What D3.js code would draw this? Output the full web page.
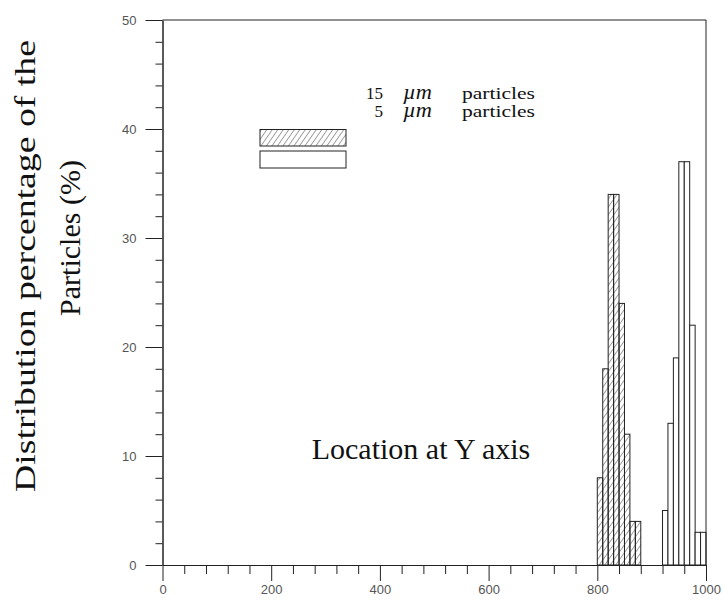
<!DOCTYPE html>
<html>
<head>
<meta charset="utf-8">
<script src="https://cdn.jsdelivr.net/npm/d3@7"></script>
<style>
  body { margin: 0; background: #fff; }
  svg { display: block; }
</style>
</head>
<body>
<svg width="724" height="605"></svg>
<script>
// datos del histograma (inicio de cada clase, ancho 10)
const bins15 = [800, 810, 820, 830, 840, 850, 860, 870];
const pct15  = [8, 18, 34, 34, 24, 12, 4, 4];
const bins5  = [920, 930, 940, 950, 960, 970, 980, 990];
const pct5   = [5, 13, 19, 37, 37, 22, 3, 3];
const binWidth = 10;

const xMajor = [0, 200, 400, 600, 800, 1000];
const yMajor = [0, 10, 20, 30, 40, 50];
const xMinor = d3.range(0, 1001, 40).filter(d => !xMajor.includes(d));
const yMinor = d3.range(0, 51, 2).filter(d => !yMajor.includes(d));

const serif = "'Liberation Serif', 'Times New Roman', serif";
const sans = "'Liberation Sans', Arial, sans-serif";

const svg = d3.select("svg");
const xScale = d3.scaleLinear().domain([0, 1000]).range([162.5, 706]);
const yScale = d3.scaleLinear().domain([0, 50]).range([565, 20]);

// patron rayado
const defs = svg.append("defs");
defs.append("pattern")
    .attr("id", "hatch")
    .attr("patternUnits", "userSpaceOnUse")
    .attr("width", 4.5)
    .attr("height", 4.5)
    .attr("patternTransform", "rotate(35)")
    .append("line")
    .attr("x1", 0).attr("y1", 0).attr("x2", 0).attr("y2", 4.5)
    .attr("stroke", "#444")
    .attr("stroke-width", 1);

// barras
function drawBars(bins, vals, fill) {
    svg.append("g").selectAll("rect")
        .data(bins.map((b, i) => ({ b: b, v: vals[i] })))
        .join("rect")
        .attr("x", d => xScale(d.b))
        .attr("y", d => yScale(d.v))
        .attr("width", d => xScale(d.b + binWidth) - xScale(d.b))
        .attr("height", d => yScale(0) - yScale(d.v))
        .attr("fill", fill)
        .attr("stroke", "#222")
        .attr("stroke-width", 1);
}
drawBars(bins15, pct15, "url(#hatch)");
drawBars(bins5, pct5, "#fff");

// ejes
const fmt = d3.format("d");
const xAxisMinor = d3.axisBottom(xScale).tickValues(xMinor).tickSize(9).tickSizeOuter(0).tickFormat("");
const xAxis = d3.axisBottom(xScale).tickValues(xMajor).tickSize(16).tickSizeOuter(0).tickPadding(4).tickFormat(fmt);
const yAxisMinor = d3.axisLeft(yScale).tickValues(yMinor).tickSize(7).tickSizeOuter(0).tickFormat("");
const yAxis = d3.axisLeft(yScale).tickValues(yMajor).tickSize(17).tickSizeOuter(0).tickPadding(9).tickFormat(fmt);

[xAxisMinor, xAxis].forEach(a => {
    svg.append("g").attr("transform", `translate(0,${yScale(0)})`).call(a);
});
[yAxisMinor, yAxis].forEach(a => {
    svg.append("g").attr("transform", `translate(${xScale(0)},0)`).call(a);
});
svg.selectAll(".domain, .tick line").attr("stroke", "#222");
svg.selectAll(".tick text")
    .attr("font-family", sans)
    .attr("font-size", 13)
    .attr("fill", "#555");

// marco superior y derecho
svg.append("line")
    .attr("x1", xScale(0)).attr("y1", yScale(50))
    .attr("x2", xScale(1000)).attr("y2", yScale(50))
    .attr("stroke", "#222");
svg.append("line")
    .attr("x1", xScale(1000)).attr("y1", yScale(50))
    .attr("x2", xScale(1000)).attr("y2", yScale(0))
    .attr("stroke", "#222");

// leyenda
svg.append("rect").attr("x", 260).attr("y", 129.5).attr("width", 86).attr("height", 16.5)
    .attr("fill", "url(#hatch)").attr("stroke", "#222");
svg.append("rect").attr("x", 260).attr("y", 151).attr("width", 86).attr("height", 17)
    .attr("fill", "#fff").attr("stroke", "#222");

const legendRows = [
    { size: "15", base: 99 },
    { size: "5", base: 117 }
];
legendRows.forEach(r => {
    svg.append("text").attr("x", 383).attr("y", r.base).attr("text-anchor", "end")
        .attr("font-family", serif).attr("font-size", 17).attr("fill", "#111").text(r.size);
    svg.append("text").attr("x", 403).attr("y", r.base)
        .attr("font-family", serif).attr("font-size", 20).attr("font-style", "italic")
        .attr("fill", "#111").attr("textLength", 29).attr("lengthAdjust", "spacingAndGlyphs")
        .text("\u00b5m");
    svg.append("text").attr("x", 462).attr("y", r.base)
        .attr("font-family", serif).attr("font-size", 17).attr("fill", "#111")
        .attr("textLength", 73).attr("lengthAdjust", "spacingAndGlyphs").text("particles");
});

// titulos
svg.append("text")
    .attr("x", 421).attr("y", 459)
    .attr("text-anchor", "middle")
    .attr("font-family", serif).attr("font-size", 30).attr("fill", "#111")
    .text("Location at Y axis");

svg.append("text")
    .attr("transform", "translate(35,266) rotate(-90)")
    .attr("text-anchor", "middle")
    .attr("font-family", serif).attr("font-size", 30).attr("fill", "#111")
    .attr("textLength", 452).attr("lengthAdjust", "spacingAndGlyphs")
    .text("Distribution percentage of the");
svg.append("text")
    .attr("transform", "translate(80,238) rotate(-90)")
    .attr("text-anchor", "middle")
    .attr("font-family", serif).attr("font-size", 30).attr("fill", "#111")
    .text("Particles (%)");
</script>
</body>
</html>
